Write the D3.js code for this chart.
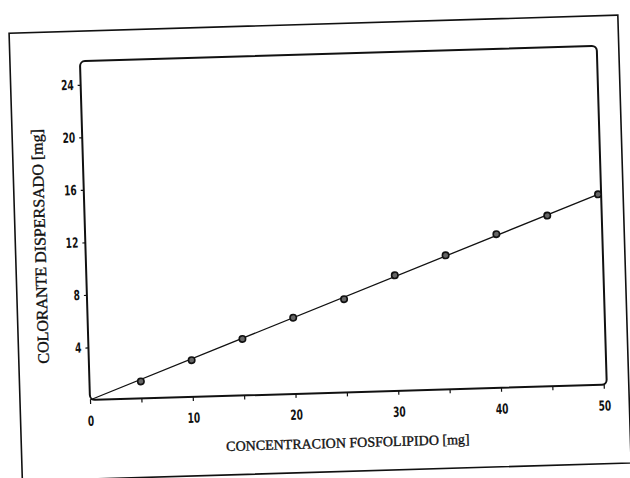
<!DOCTYPE html>
<html>
<head>
<meta charset="utf-8">
<script src="https://cdn.jsdelivr.net/npm/d3@7"></script>
<style>
    body { margin: 0; background: #fff; }
    svg { display: block; }
    .tick text { font-family: "DejaVu Sans Condensed", "DejaVu Sans", sans-serif; font-weight: bold; font-size: 14px; fill: #111; }
    .title { font-family: "Liberation Serif", serif; fill: #111; stroke: #111; stroke-width: 0.35; }
</style>
</head>
<body>
<svg width="630" height="478"></svg>
<script>
// phospholipid concentration [mg] vs dispersed dye [mg]
const concentration = [5, 10, 15, 20, 25, 30, 35, 40, 45, 50];
const dye = [1.3, 2.8, 4.3, 5.8, 7.1, 8.8, 10.2, 11.7, 13.0, 14.5];
const xTicks = [0, 5, 10, 15, 20, 25, 30, 35, 40, 45, 50];
const xLabels = [0, 10, 20, 30, 40, 50];
const yTicks = [4, 8, 12, 16, 20, 24];

const svg = d3.select("svg");

// scanned page sits slightly rotated
const g = svg.append("g")
    .attr("transform", "translate(90,400) rotate(-1.7)");

const w = 517, h = 339;

const x = d3.scaleLinear().domain([0, 50.3]).range([0, w]);
const y = d3.scaleLinear().domain([0, 25.8]).range([0, -h]);

// outer frame of the page
g.append("rect")
    .attr("x", -70).attr("y", -369)
    .attr("width", 609).attr("height", 448)
    .attr("fill", "none")
    .attr("stroke", "#111")
    .attr("stroke-width", 1.6);

// plot box
g.append("rect")
    .attr("x", 0).attr("y", -h)
    .attr("width", w).attr("height", h)
    .attr("rx", 5)
    .attr("fill", "none")
    .attr("stroke", "#111")
    .attr("stroke-width", 2);

const xAxis = g.append("g")
    .call(d3.axisBottom(x).tickValues(xTicks).tickSize(4).tickPadding(12)
        .tickFormat((d) => xLabels.includes(d) ? d : ""));
xAxis.select(".domain").remove();
xAxis.selectAll(".tick line").attr("stroke", "#111").attr("stroke-width", 1.2);

const yAxis = g.append("g")
    .call(d3.axisLeft(y).tickValues(yTicks).tickSize(3).tickPadding(4));
yAxis.select(".domain").remove();
yAxis.selectAll(".tick line").attr("stroke", "#111").attr("stroke-width", 1.2);

// narrow, tall digits like the original typeface
g.selectAll(".tick text").attr("transform", "scale(0.72,1)");
yAxis.selectAll(".tick text").attr("x", -7 / 0.72);

// fitted line through origin up to the last point
const line = d3.line()
    .x((d) => x(d[0]))
    .y((d) => y(d[1]));

const last = concentration.length - 1;
g.append("path")
    .datum([[0, 0], [concentration[last], dye[last]]])
    .attr("d", line)
    .attr("fill", "none")
    .attr("stroke", "#111")
    .attr("stroke-width", 1.3);

g.selectAll(".pt")
    .data(concentration)
    .enter()
    .append("circle")
    .attr("class", "pt")
    .attr("cx", (d) => x(d))
    .attr("cy", (d, i) => y(dye[i]))
    .attr("r", 3.2)
    .attr("fill", "#666")
    .attr("stroke", "#111")
    .attr("stroke-width", 1.6);

g.append("text")
    .attr("class", "title")
    .attr("x", w / 2 - 2)
    .attr("y", 55)
    .attr("text-anchor", "middle")
    .attr("font-size", 14)
    .text("CONCENTRACION FOSFOLIPIDO [mg]");

g.append("text")
    .attr("class", "title")
    .attr("transform", "translate(-40,-155) rotate(-90)")
    .attr("text-anchor", "middle")
    .attr("font-size", 16)
    .text("COLORANTE DISPERSADO [mg]");
</script>
</body>
</html>
